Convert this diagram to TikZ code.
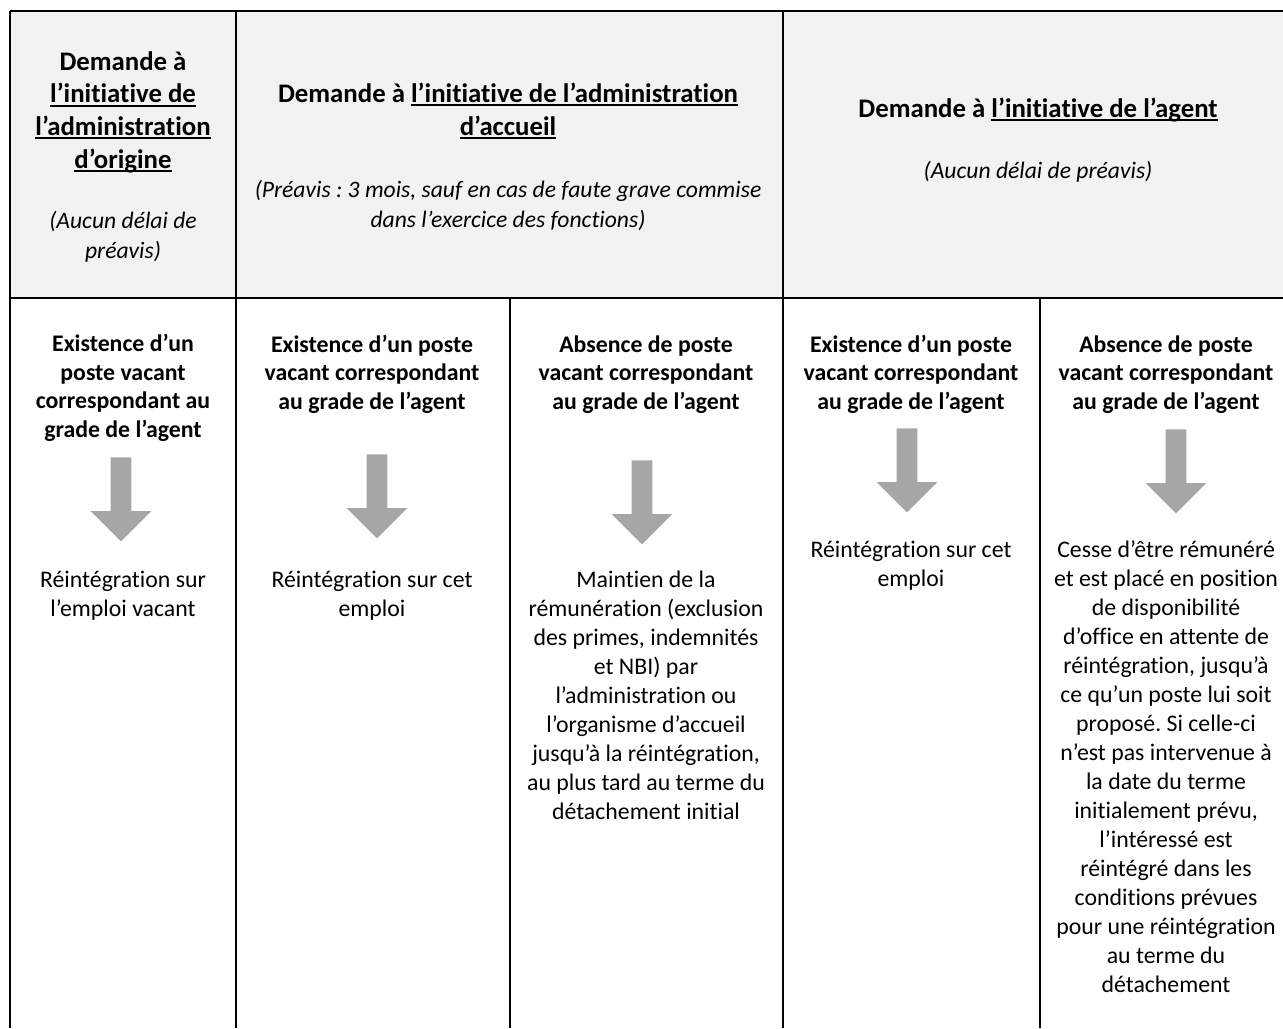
\documentclass[tikz,border=0pt]{standalone}
\usepackage{fontspec}
\setmainfont{Carlito}[Ligatures=NoCommon]
\usetikzlibrary{shapes.arrows}
\definecolor{hdrgrey}{RGB}{242,242,242}
\definecolor{arrgrey}{RGB}{166,166,166}
\newcommand{\hdrul}[1]{\setbox0\hbox{#1}\rlap{\vrule width\wd0 height -0.9pt depth 1.9pt}\box0}
\frenchspacing

\begin{document}
\begin{tikzpicture}[x=0.5pt, y=-0.5pt,
 rule/.style={line width=1.1pt, black},
 hdr/.style={font=\fontsize{13.4}{16.3}\selectfont\bfseries, align=center, inner sep=0pt, anchor=base},
 note/.style={font=\fontsize{11.8}{15}\selectfont\itshape, align=center, inner sep=0pt, anchor=base},
 cond/.style={font=\fontsize{11.9}{14.25}\selectfont\bfseries, align=center, inner sep=0pt, anchor=base},
 res/.style={font=\fontsize{11.9}{14.5}\selectfont, align=center, inner sep=0pt, anchor=base},
 downarr/.style={single arrow, shape border rotate=270, fill=arrgrey, draw=none, inner sep=5pt,
   minimum width=30pt, single arrow head extend=10pt, minimum height=42pt, anchor=tip}]
\useasboundingbox (0,0) rectangle (1283,1028);
% header band and table rules
\fill[hdrgrey] (10,11) rectangle (1283,298);
\draw[rule] (10,11) -- (1283,11);
\draw[rule] (10,298) -- (1283,298);
\foreach \xc in {10,236,783} \draw[rule] (\xc,11) -- (\xc,1028);
\foreach \xc in {510,1040} \draw[rule] (\xc,298) -- (\xc,1028);

% header (anchors sit on the last baseline)
\node[hdr] (orig) at (123,168) {Demande à\\ \hdrul{l’initiative de}\\ \hdrul{l’administration}\\ \hdrul{d’origine}};
\node[note] (orignote) at (123,258) {(Aucun délai de\\ préavis)};
\node[hdr] (accueil) at (508,135) {Demande à \hdrul{l’initiative de l’administration}\\ \hdrul{d’accueil}};
\node[note] (accueilnote) at (508,227) {(Préavis : 3 mois, sauf en cas de faute grave commise\\ dans l’exercice des fonctions)};
\node[hdr] (agent) at (1038,117) {Demande à \hdrul{l’initiative de l’agent}};
\node[note] (agentnote) at (1038,178) {(Aucun délai de préavis)};

% conditions
\node[cond] (c1) at (123,437) {Existence d’un\\ poste vacant\\ correspondant au\\ grade de l’agent};
\node[cond] (c2) at (372,409) {Existence d’un poste\\ vacant correspondant\\ au grade de l’agent};
\node[cond] (c3) at (646,409) {Absence de poste\\ vacant correspondant\\ au grade de l’agent};
\node[cond] (c4) at (911,409) {Existence d’un poste\\ vacant correspondant\\ au grade de l’agent};
\node[cond] (c5) at (1166,409) {Absence de poste\\ vacant correspondant\\ au grade de l’agent};

% arrows
\node[downarr] (a1) at (121,542) {};
\node[downarr] (a2) at (377,539) {};
\node[downarr] (a3) at (642,545) {};
\node[downarr] (a4) at (907,513) {};
\node[downarr] (a5) at (1176,514) {};

% outcomes
\node[res] (r1) at (123,616) {Réintégration sur\\ l’emploi vacant};
\node[res] (r2) at (372,616) {Réintégration sur cet\\ emploi};
\node[res] (r3) at (646,819) {Maintien de la\\ rémunération (exclusion\\ des primes, indemnités\\ et NBI) par\\ l’administration ou\\ l’organisme d’accueil\\ jusqu’à la réintégration,\\ au plus tard au terme du\\ détachement initial};
\node[res] (r4) at (911,586) {Réintégration sur cet\\ emploi};
\node[res] (r5) at (1166,992) {Cesse d’être rémunéré\\ et est placé en position\\ de disponibilité\\ d’office en attente de\\ réintégration, jusqu’à\\ ce qu’un poste lui soit\\ proposé. Si celle-ci\\ n’est pas intervenue à\\ la date du terme\\ initialement prévu,\\ l’intéressé est\\ réintégré dans les\\ conditions prévues\\ pour une réintégration\\ au terme du\\ détachement};
\end{tikzpicture}
\end{document}
